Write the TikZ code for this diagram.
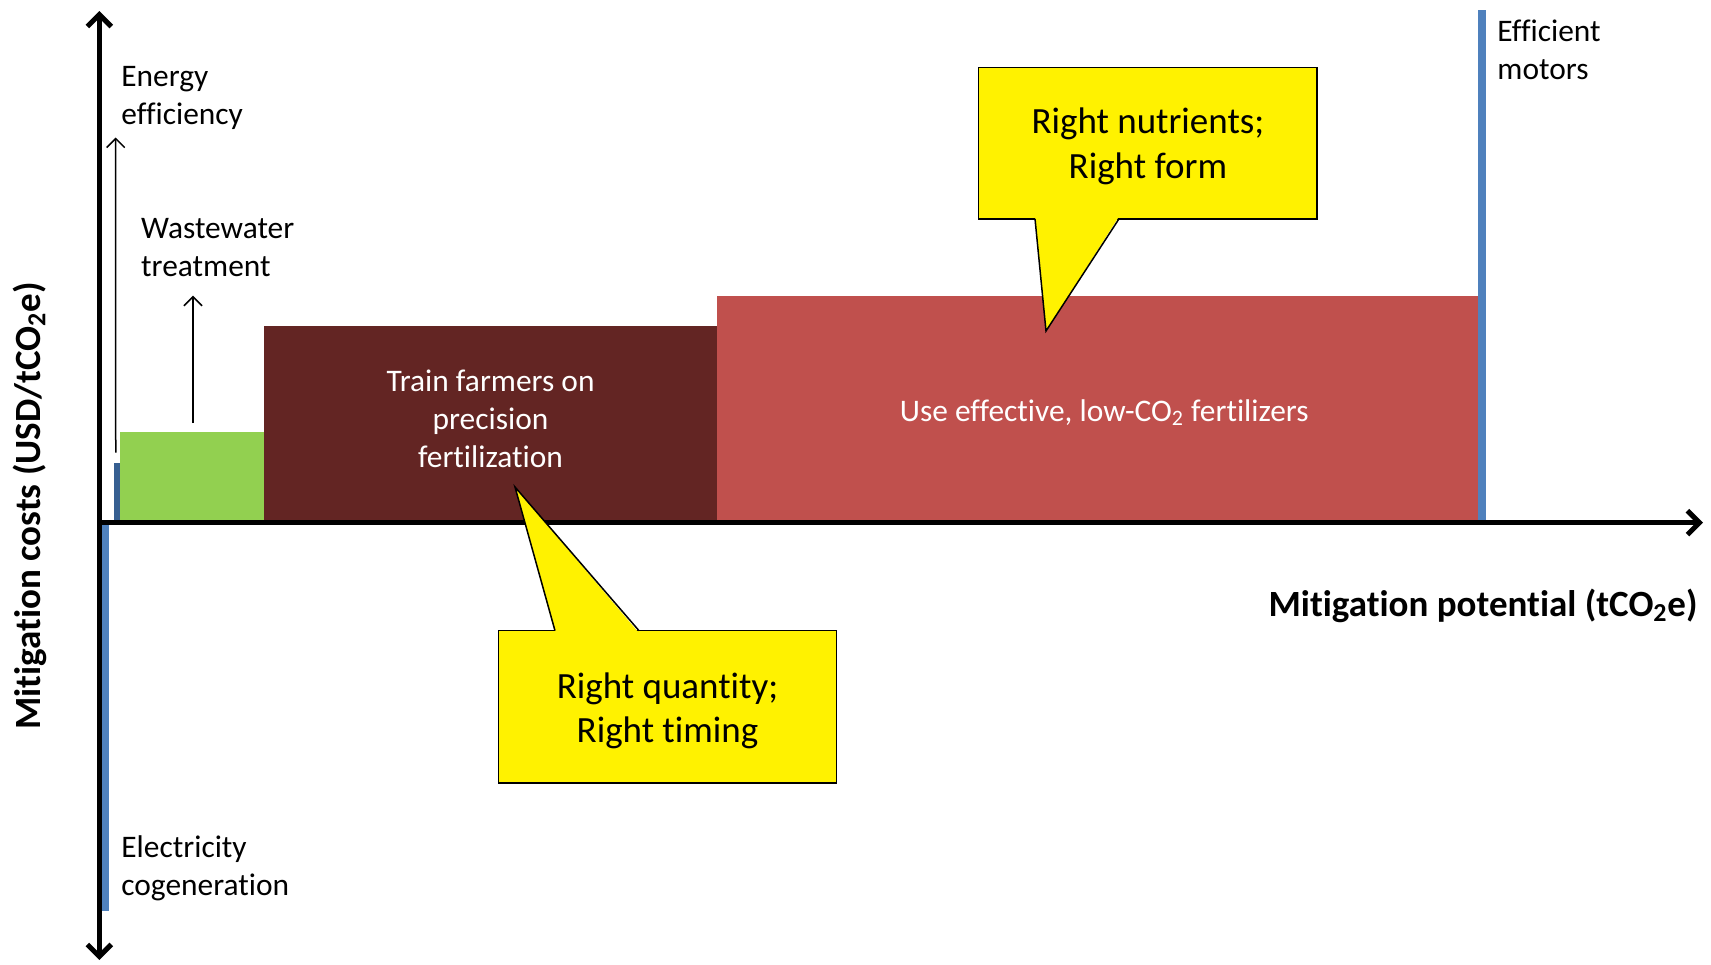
\documentclass[tikz,border=0pt]{standalone}
\usepackage{fontspec}
\setmainfont{Carlito}[Ligatures=NoCommon]
\usepackage{tikz}
\usetikzlibrary{arrows.meta}
\definecolor{barblue}{HTML}{4F81BD}
\definecolor{bardarkblue}{HTML}{365F91}
\definecolor{bargreen}{HTML}{92D050}
\definecolor{barmaroon}{HTML}{632523}
\definecolor{barred}{HTML}{C0504D}

\begin{document}
\begin{tikzpicture}[x=0.5pt, y=-0.5pt,
    bar/.style = {inner sep=0pt, outer sep=0pt, anchor=south west},
    bartext/.style = {inner sep=0pt, text=white, align=center, font=\fontsize{15.7}{19}\selectfont},
    axis/.style = {line width=2.5pt, >={Straight Barb[length=6pt,width=12pt]}},
    pointer/.style = {line width=0.75pt, -{Straight Barb[length=4.5pt,width=9pt]}},
    lbl/.style = {anchor=west, align=left, inner sep=0pt, font=\fontsize{15.7}{19}\selectfont},
    callout/.style = {draw, line width=0.75pt, fill=yellow, inner sep=0pt},
    callouttext/.style = {align=center, inner sep=0pt, font=\fontsize{18.5}{22.4}\selectfont},
    axislabel/.style = {inner sep=0pt, font=\fontsize{18.5}{22}\selectfont\bfseries}]
    \useasboundingbox (0,0) rectangle (1711,964);

    \coordinate (o) at (99.3,522.7);
    \coordinate (ytop) at (99.3,11);
    \coordinate (ybot) at (99.3,960);
    \coordinate (xend) at (1703,522.7);

    \node[bar, fill=bardarkblue, minimum width=3.25pt, minimum height=30pt] (effbar) at (113.5,522.7) {};
    \node[bar, fill=bargreen, minimum width=72pt, minimum height=45.35pt] (wwbar) at (120,522.7) {};
    \node[bar, fill=barmaroon, minimum width=226.5pt, minimum height=98.35pt] (train) at (264,522.7) {};
    \node[bar, fill=barred, minimum width=380.25pt, minimum height=113.5pt] (fert) at (717,522.7) {};
    \node[bar, fill=barblue, minimum width=4.25pt, minimum height=256.45pt] (motbar) at (1477.5,522.7) {};
    \node[bar, anchor=north west, fill=barblue, minimum width=3.75pt, minimum height=194.15pt] (cogbar) at (101.5,522.7) {};

    \node[bartext] (traintext) at ([yshift=2.75pt]train.center) {Train farmers on\\precision\\fertilization};
    \node[bartext] (ferttext) at ([xshift=3.5pt,yshift=-1.6pt]fert.center) {Use effective, low-CO\textsubscript{2} fertilizers};

    \draw[axis, <->] (ybot) -- (ytop);
    \draw[axis, ->] (o) -- (xend);

    \node[lbl] (eff) at (121,98.3) {Energy\\efficiency};
    \node[lbl] (ww) at (140.8,247.5) {Wastewater\\treatment};
    \node[lbl] (cog) at (121,868.7) {Electricity\\cogeneration};
    \node[lbl] (mot) at (1497,49.6) {Efficient\\motors};

    \coordinate (effend) at (115.7,137.5);
    \coordinate (wwend) at (193,295.7);
    \draw[pointer] ([xshift=-0.5pt,yshift=5pt]effbar.north) -- (effend);
    \draw[pointer] ([xshift=0.5pt,yshift=4.5pt]wwbar.north) -- (wwend);

    \node[callout, minimum width=169.2pt, minimum height=76.2pt] (qt) at (667.5,706.9) {};
    \coordinate (qttip) at (515,487);
    \fill[yellow] (qttip) -- (555,633) -- (639,633) -- cycle;
    \draw[line width=0.75pt] (555,630.7) -- (qttip) -- (639,630.7);
    \node[callouttext] (qttext) at ([yshift=-2pt]qt.center) {Right quantity;\\Right timing};

    \node[callout, minimum width=169.3pt, minimum height=75.7pt] (nf) at (1147.9,143.2) {};
    \coordinate (nftip) at (1046,331);
    \fill[yellow] (nftip) -- (1035,216.5) -- (1119,216.5) -- cycle;
    \draw[line width=0.75pt] (1035,218.8) -- (nftip) -- (1119,218.8);
    \node[callouttext] (nftext) at ([yshift=-1.6pt]nf.center) {Right nutrients;\\Right form};

    \node[axislabel, anchor=east] (xlabel) at (1698,605.5) {Mitigation potential (tCO\textsubscript{2}e)};
    \node[axislabel, rotate=90] (ylabel) at (29.5,506) {Mitigation costs (USD/tCO\textsubscript{2}e)};
\end{tikzpicture}
\end{document}
